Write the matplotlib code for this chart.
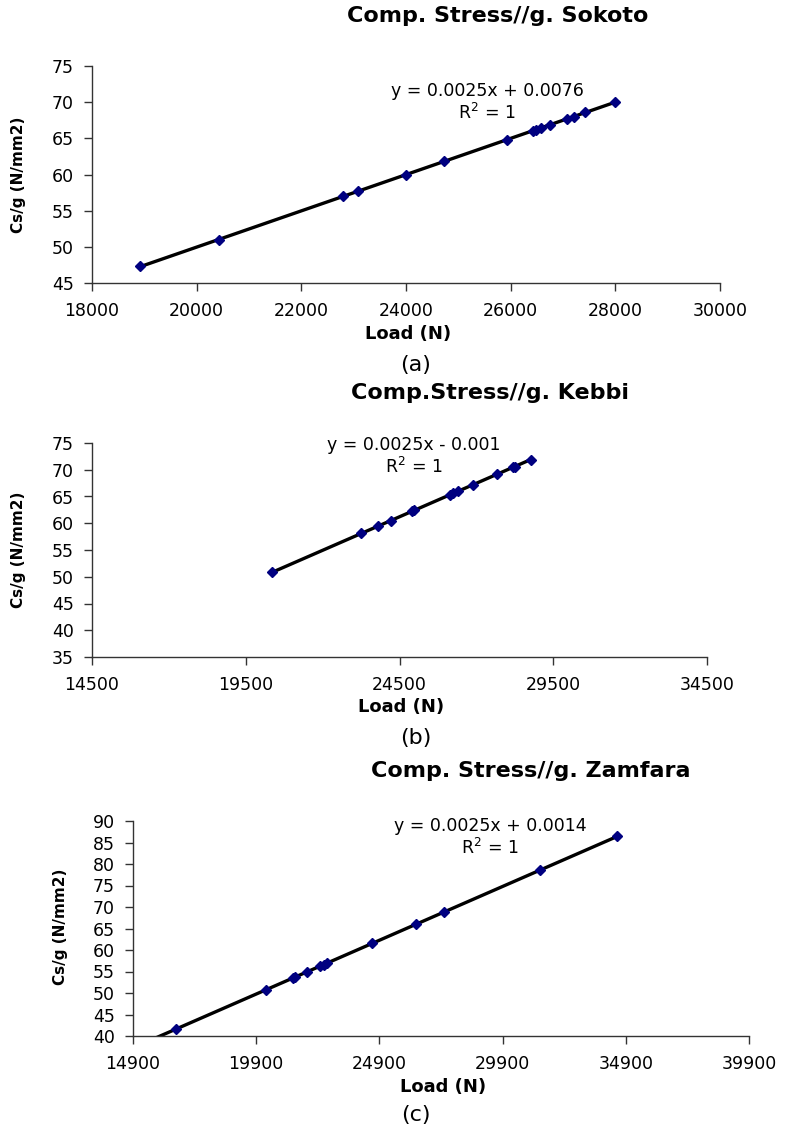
import matplotlib
matplotlib.use("Agg")
import matplotlib.pyplot as plt
import numpy as np

plt.rcParams['font.family'] = ['DejaVu Sans']

# Sokoto (a)
load_a = [18926, 20425, 22802, 23079, 23995, 24721, 25924, 26420, 26487,
          26573, 26754, 27069, 27213, 27423, 27996]
cs_a = [47.3, 51.0, 57.0, 57.7, 59.9, 61.8, 64.8, 66.05, 66.2,
        66.4, 66.9, 67.7, 68.0, 68.6, 70.0]

# Kebbi (b)
load_b = [20343, 23264, 23816, 24222, 24904, 24985, 26137, 26234, 26397,
          26900, 27679, 28198, 28247, 28783]
cs_b = [50.8, 58.1, 59.5, 60.5, 62.2, 62.4, 65.3, 65.6, 66.0,
        67.2, 69.2, 70.5, 70.6, 71.9]

# Zamfara (c)
load_c = [16625, 20318, 21413, 21474, 21981, 22489, 22651, 22773, 24619,
          26384, 27541, 31436, 34541]
cs_c = [41.6, 50.8, 53.5, 53.7, 55.0, 56.2, 56.6, 56.9, 61.6,
        66.0, 68.9, 78.6, 86.4]

panels = [
    dict(x=load_a, y=cs_a, title='Comp. Stress//g. Sokoto', tag='(a)',
         eq='y = 0.0025x + 0.0076', xlim=(18000, 30000), xstep=2000,
         ylim=(45, 75), back=0,
         ax=(92, 66, 720, 283), title_xy=(498, 16), eq_xy=(487, 91),
         xl_xy=(408, 334), tag_xy=(416, 365), yl_xy=(19, 175)),
    dict(x=load_b, y=cs_b, title='Comp.Stress//g. Kebbi', tag='(b)',
         eq='y = 0.0025x - 0.001', xlim=(14500, 34500), xstep=5000,
         ylim=(35, 75), back=0,
         ax=(92, 443, 707, 657), title_xy=(490, 393), eq_xy=(414, 445),
         xl_xy=(401, 707), tag_xy=(416, 738), yl_xy=(19, 550)),
    dict(x=load_c, y=cs_c, title='Comp. Stress//g. Zamfara', tag='(c)',
         eq='y = 0.0025x + 0.0014', xlim=(14900, 39900), xstep=5000,
         ylim=(40, 90), back=1000,
         ax=(133, 821, 749, 1036), title_xy=(531, 771), eq_xy=(490, 826),
         xl_xy=(443, 1087), tag_xy=(416, 1115), yl_xy=(60, 927)),
]

W, H = 788, 1130
fig = plt.figure(figsize=(W / 100, H / 100), dpi=100)


def fx(px):
    return px / W


def fy(py):
    return 1 - py / H


for p in panels:
    x0, y0, x1, y1 = p['ax']
    ax = fig.add_axes([fx(x0), fy(y1), (x1 - x0) / W, (y1 - y0) / H])
    x = np.array(p['x'])
    y = np.array(p['y'])
    slope, icpt = np.polyfit(x, y, 1)
    xs = np.array([x.min() - p['back'], x.max()])
    ax.plot(xs, slope * xs + icpt, color='black', lw=2.4, zorder=2)
    ax.plot(x, y, 'D', color='#000080', ms=5, zorder=3)
    ax.set_xlim(*p['xlim'])
    ax.set_ylim(*p['ylim'])
    ax.set_xticks(np.arange(p['xlim'][0], p['xlim'][1] + 1, p['xstep']))
    ax.set_yticks(np.arange(p['ylim'][0], p['ylim'][1] + 1, 5))
    for s in ['top', 'right']:
        ax.spines[s].set_visible(False)
    for s in ['left', 'bottom']:
        ax.spines[s].set_linewidth(1.0)
        ax.spines[s].set_color('#333333')
    ax.tick_params(direction='out', length=6, width=1, color='#333333',
                   labelsize=12.5, pad=7)
    ax.tick_params(axis='x', pad=8)

    fig.text(fx(p['title_xy'][0]), fy(p['title_xy'][1]), p['title'],
             ha='center', va='center', fontsize=16, fontweight='bold')
    fig.text(fx(p['eq_xy'][0]), fy(p['eq_xy'][1]), p['eq'],
             ha='center', va='center', fontsize=12.5)
    fig.text(fx(p['eq_xy'][0]), fy(p['eq_xy'][1] + 22), 'R$^2$ = 1',
             ha='center', va='center', fontsize=12.5)
    fig.text(fx(p['xl_xy'][0]), fy(p['xl_xy'][1]), 'Load (N)',
             ha='center', va='center', fontsize=13, fontweight='bold')
    fig.text(fx(p['yl_xy'][0]), fy(p['yl_xy'][1]), 'Cs/g (N/mm2)',
             ha='center', va='center', fontsize=11, fontweight='bold',
             rotation=90)
    fig.text(fx(p['tag_xy'][0]), fy(p['tag_xy'][1]), p['tag'],
             ha='center', va='center', fontsize=16)

fig.savefig('out.png', dpi=100)
